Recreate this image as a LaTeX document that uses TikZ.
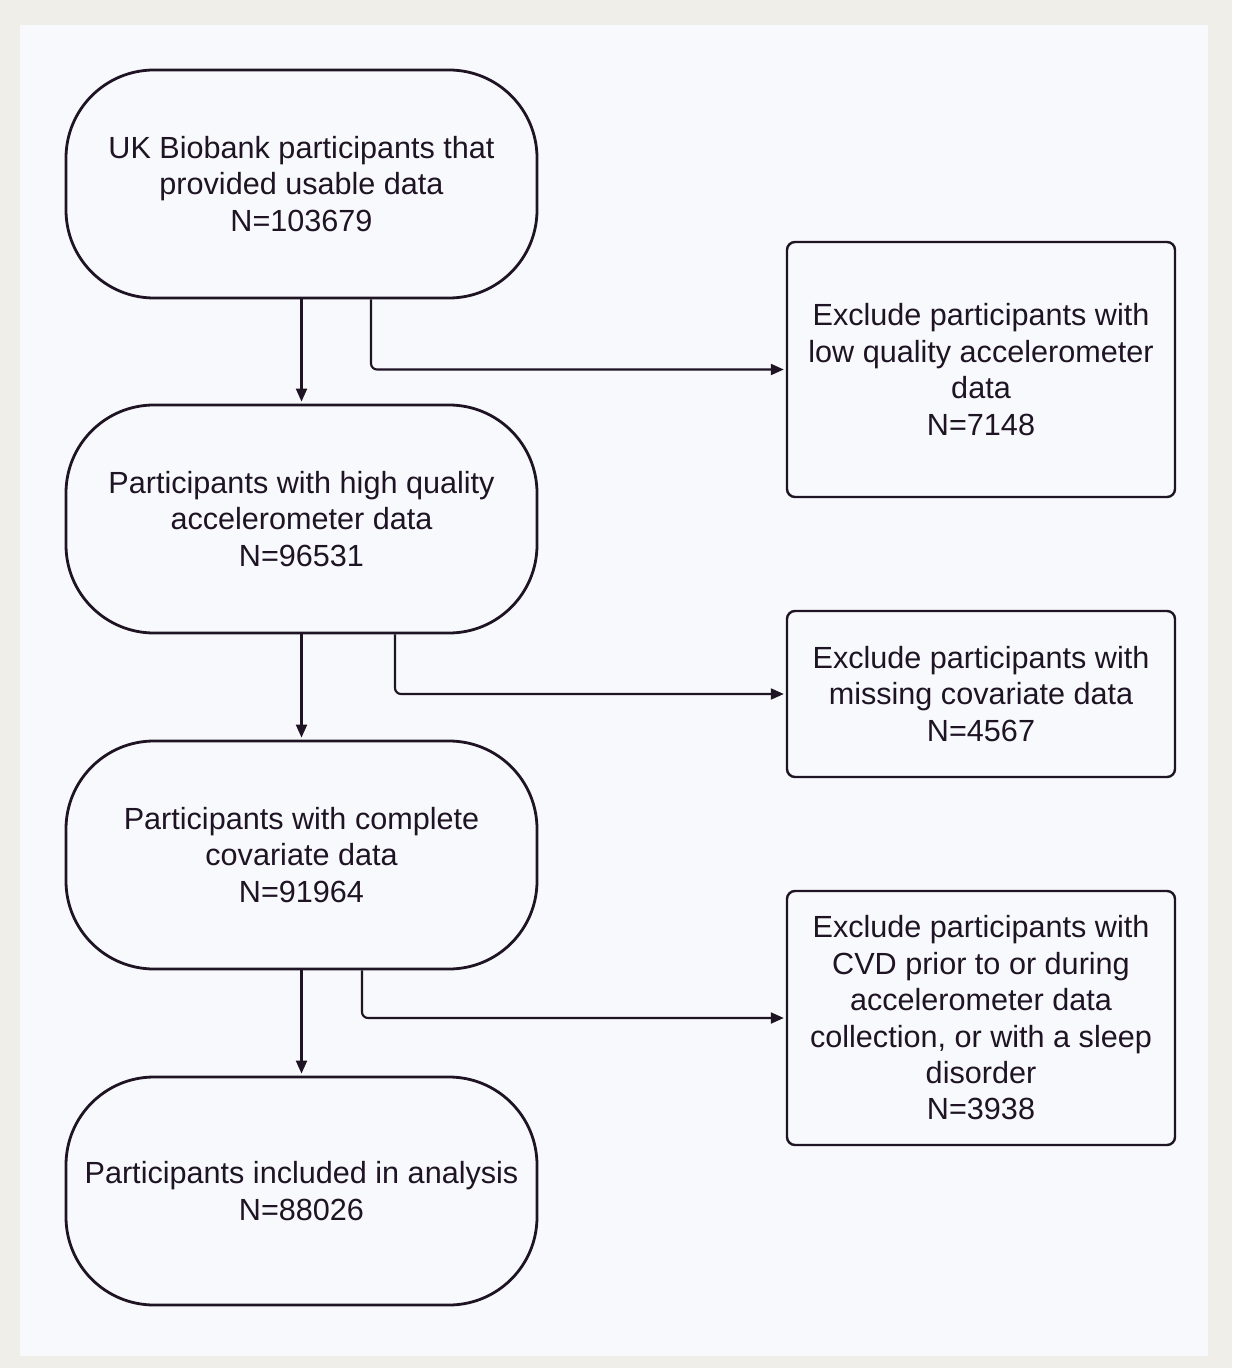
\documentclass[tikz,border=0pt]{standalone}
\usepackage{fontspec}
\setmainfont{Liberation Sans}
\usetikzlibrary{arrows.meta,positioning}
\definecolor{ink}{HTML}{1E1424}
\definecolor{paper}{HTML}{F8F9FC}
\definecolor{frame}{HTML}{EFEEE8}

\begin{document}
\begin{tikzpicture}[x=0.5pt,y=-0.5pt,
  pill/.style={draw=ink,line width=1.4pt,rounded corners=44pt,minimum width=235.5pt,minimum height=114pt,align=center,text=ink,font=\fontsize{15.3}{18.2}\selectfont},
  excl/.style={draw=ink,line width=1.2pt,rounded corners=4pt,minimum width=194pt,align=center,text=ink,font=\fontsize{15.3}{18.2}\selectfont},
  arr/.style={draw=ink,line width=1.05pt,-{Triangle[length=6.5pt,width=5.5pt]},shorten >=1pt}]
\fill[frame] (0,0) rectangle (1232,1368);
\fill[paper] (20,25) rectangle (1208,1356);
\node[pill] (usable) at (301.5,184) {UK Biobank participants that\\provided usable data\\N=103679};
\node[pill] (quality) at (301.5,519) {Participants with high quality\\accelerometer data\\N=96531};
\node[pill] (complete) at (301.5,855) {Participants with complete\\covariate data\\N=91964};
\node[pill] (analysis) at (301.5,1191) {Participants included in analysis\\N=88026};
\node[excl,minimum height=127.5pt] (lowq) at (981,369.5) {Exclude participants with\\low quality accelerometer\\data\\N=7148};
\node[excl,minimum height=83pt] (missing) at (981,694) {Exclude participants with\\missing covariate data\\N=4567};
\node[excl,minimum height=127pt] (cvd) at (981,1018) {Exclude participants with\\CVD prior to or during\\accelerometer data\\collection, or with a sleep\\disorder\\N=3938};
\draw[arr] (usable) -- (quality);
\draw[arr] (quality) -- (complete);
\draw[arr] (complete) -- (analysis);
\draw[arr,rounded corners=3pt] ([xshift=34.75pt]usable.south) |- (lowq.west);
\draw[arr,rounded corners=3pt] ([xshift=46.75pt]quality.south) |- (missing.west);
\draw[arr,rounded corners=3pt] ([xshift=30.25pt]complete.south) |- (cvd.west);
\end{tikzpicture}
\end{document}
